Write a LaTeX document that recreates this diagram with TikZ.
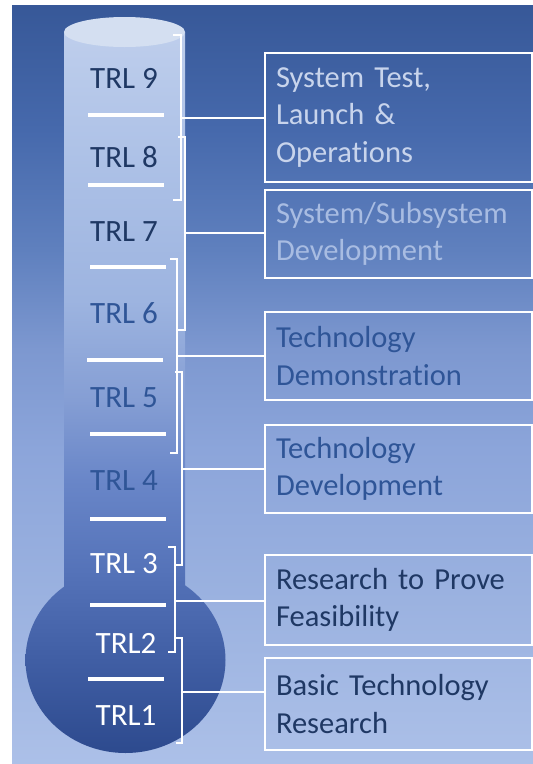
\documentclass[tikz,border=0pt]{standalone}
\usepackage{fontspec}
\setmainfont{Carlito}[Ligatures={NoCommon}]
\usetikzlibrary{positioning}

\definecolor{trlnavy}{RGB}{31,56,100}
\definecolor{trlblue}{RGB}{47,85,151}
\definecolor{trlpale}{RGB}{200,212,236}
\definecolor{trlfaint}{RGB}{168,188,226}
\definecolor{trlcap}{RGB}{212,223,241}

%% backdrop colours, bottom to top
\definecolor{bgA}{RGB}{172,192,232}
\definecolor{bgB}{RGB}{155,178,224}
\definecolor{bgC}{RGB}{140,165,218}
\definecolor{bgD}{RGB}{125,152,208}
\definecolor{bgE}{RGB}{95,128,190}
\definecolor{bgF}{RGB}{70,105,172}
\definecolor{bgG}{RGB}{55,88,152}

%% thermometer colours, bottom to top
\definecolor{thA}{RGB}{45,74,142}
\definecolor{thB}{RGB}{64,94,164}
\definecolor{thC}{RGB}{85,115,185}
\definecolor{thD}{RGB}{105,134,200}
\definecolor{thE}{RGB}{133,158,212}
\definecolor{thF}{RGB}{157,180,224}
\definecolor{thG}{RGB}{174,194,231}
\definecolor{thH}{RGB}{190,206,236}

\pgfdeclareverticalshading{backdrop}{100bp}{color(0bp)=(bgA); color(25bp)=(bgA);
  color(35.8bp)=(bgB); color(45.7bp)=(bgC); color(52.3bp)=(bgD);
  color(58.9bp)=(bgE); color(66.8bp)=(bgF); color(75bp)=(bgG); color(100bp)=(bgG)}
\pgfdeclareverticalshading{thermo}{100bp}{color(0bp)=(thA); color(25bp)=(thA);
  color(31.4bp)=(thB); color(37.7bp)=(thC); color(43.9bp)=(thD);
  color(49.5bp)=(thE); color(56.4bp)=(thF); color(66.8bp)=(thG); color(75bp)=(thH); color(100bp)=(thH)}

\begin{document}
\begin{tikzpicture}[
    level/.style={font=\fontsize{31}{31}\selectfont, anchor=base, inner sep=0pt},
    tickbar/.style={white, line width=4.5pt},
    brace/.style={white, line width=1.6pt},
    phase/.style={draw=white, line width=1.6pt, text width=245pt, align=left,
      inner xsep=11pt, minimum height=88pt,
      font=\fontsize{30.5}{37.5}\selectfont}]

  \useasboundingbox (0pt,0pt) rectangle (533pt,-764pt);

  %% backdrop
  \shade[shading=backdrop] (12pt,-5pt) rectangle (533pt,-764pt);

  %% thermometer
  \shade[shading=thermo] (64pt,-32pt) rectangle (185pt,-600pt)
    (125.5pt,-660pt) ellipse [x radius=100pt, y radius=93pt];
  \fill[trlcap] (124.5pt,-32pt) ellipse [x radius=60.5pt, y radius=15pt];

  %% scale marks
  \draw[tickbar] (88pt,-115pt) -- (164pt,-115pt);
  \draw[tickbar] (88pt,-185pt) -- (164pt,-185pt);
  \draw[tickbar] (90pt,-267pt) -- (166pt,-267pt);
  \draw[tickbar] (87pt,-360pt) -- (163pt,-360pt);
  \draw[tickbar] (90pt,-434pt) -- (166pt,-434pt);
  \draw[tickbar] (90pt,-519pt) -- (166pt,-519pt);
  \draw[tickbar] (90pt,-605pt) -- (166pt,-605pt);
  \draw[tickbar] (88pt,-679pt) -- (164pt,-679pt);

  %% levels
  \node[level, text=trlnavy] (trl9) at (124pt,-88pt) {TRL 9};
  \node[level, text=trlnavy] (trl8) at (124pt,-167pt) {TRL 8};
  \node[level, text=trlnavy] (trl7) at (124pt,-241pt) {TRL 7};
  \node[level, text=trlblue] (trl6) at (124pt,-323pt) {TRL 6};
  \node[level, text=trlblue] (trl5) at (124pt,-407pt) {TRL 5};
  \node[level, text=trlblue] (trl4) at (124pt,-490pt) {TRL 4};
  \node[level, text=white] (trl3) at (124pt,-573pt) {TRL 3};
  \node[level, text=white] (trl2) at (126pt,-653pt) {TRL2};
  \node[level, text=white] (trl1) at (126pt,-725pt) {TRL1};

  %% phases
  \node[phase, minimum height=129pt, text=trlpale] (ops) at (398.5pt,-117.5pt)
    {System Test,\\Launch \&\\Operations};
  \node[phase, text=trlfaint] (sysdev) at (398.5pt,-234pt)
    {System/Subsystem\\Development};
  \node[phase, text=trlblue] (techdemo) at (398.5pt,-356pt)
    {Technology\\Demonstration};
  \node[phase, text=trlblue] (techdev) at (398.5pt,-469pt)
    {Technology\\Development};
  \node[phase, minimum height=90pt, text=trlnavy] (feasib) at (398.5pt,-600pt)
    {Research to Prove\\Feasibility};
  \node[phase, minimum height=92pt, text=trlnavy] (basic) at (398.5pt,-704pt)
    {Basic Technology\\Research};

  %% brackets
  \draw[brace] (173pt,-35pt) -- (181pt,-35pt) -- (181pt,-200pt) -- (173pt,-200pt);
  \draw[brace] (178pt,-137pt) -- (185pt,-137pt) -- (185pt,-330pt) -- (178pt,-330pt);
  \draw[brace] (170pt,-259pt) -- (177pt,-259pt) -- (177pt,-453pt) -- (170pt,-453pt);
  \draw[brace] (175pt,-372pt) -- (182pt,-372pt) -- (182pt,-565pt) -- (175pt,-565pt);
  \draw[brace] (168pt,-547pt) -- (175pt,-547pt) -- (175pt,-652pt) -- (168pt,-652pt);
  \draw[brace] (176pt,-638pt) -- (182pt,-638pt) -- (182pt,-743pt) -- (176pt,-743pt);

  \coordinate (mid1) at (181pt,-118pt);
  \coordinate (mid2) at (185pt,-233pt);
  \coordinate (mid3) at (177pt,-356pt);
  \coordinate (mid4) at (182pt,-469pt);
  \coordinate (mid5) at (175pt,-601pt);
  \coordinate (mid6) at (182pt,-692pt);

  %% bracket to phase
  \draw[brace] (mid1) -- (mid1 -| ops.west);
  \draw[brace] (mid2) -- (mid2 -| sysdev.west);
  \draw[brace] (mid3) -- (mid3 -| techdemo.west);
  \draw[brace] (mid4) -- (mid4 -| techdev.west);
  \draw[brace] (mid5) -- (mid5 -| feasib.west);
  \draw[brace] (mid6) -- (mid6 -| basic.west);

\end{tikzpicture}
\end{document}
